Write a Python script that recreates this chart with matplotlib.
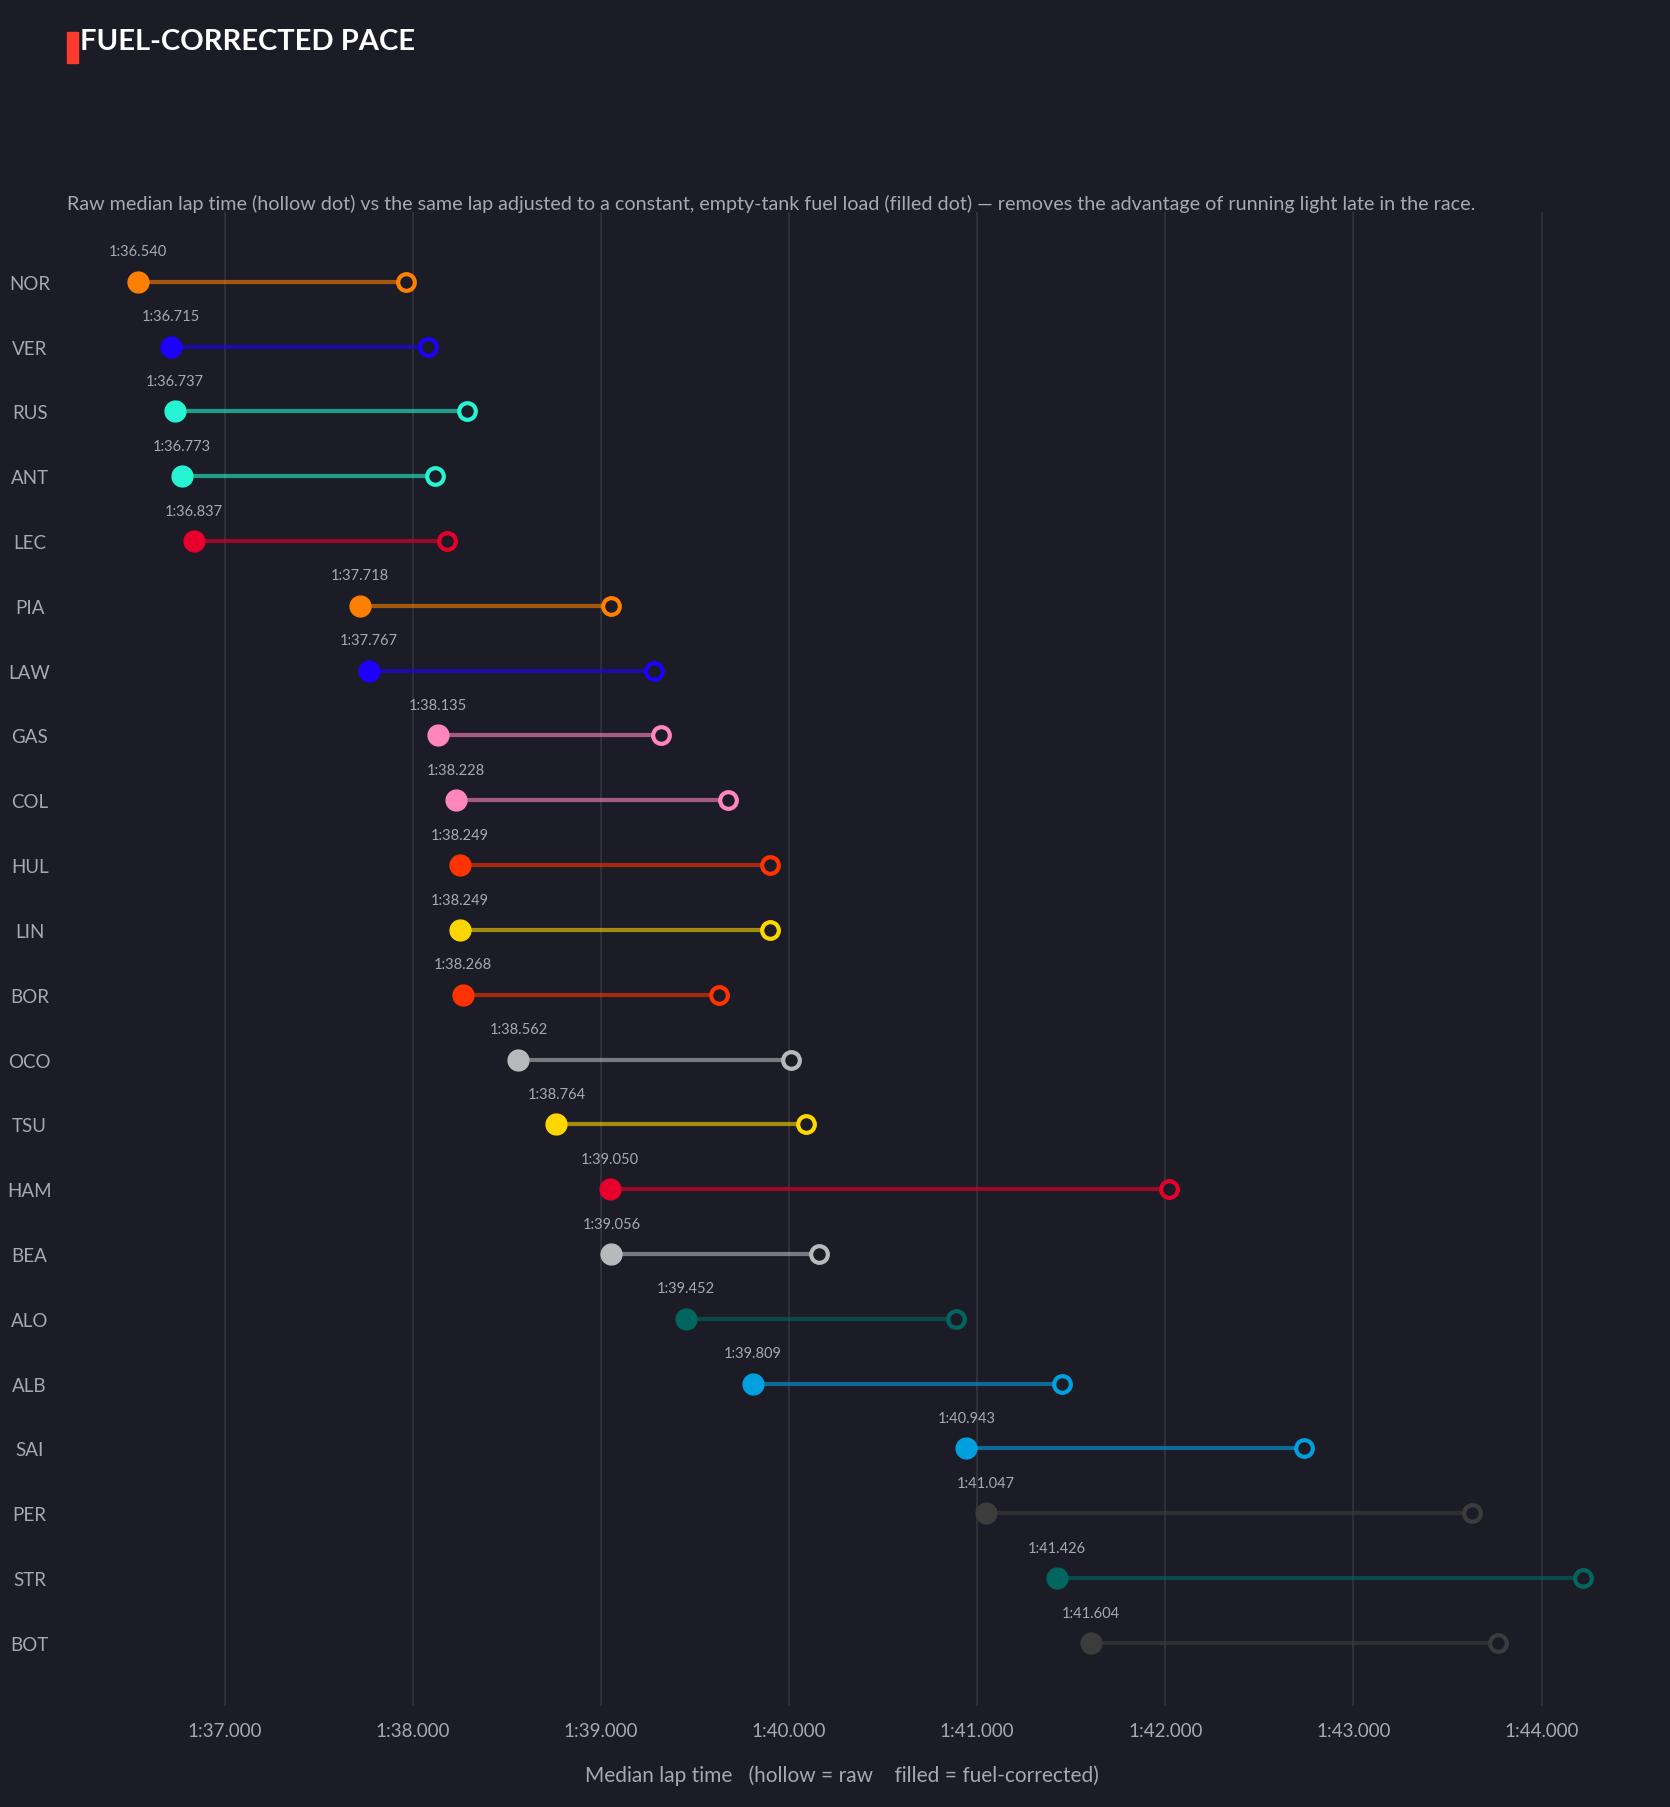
import matplotlib
matplotlib.use("Agg")
import matplotlib.pyplot as plt
from matplotlib.ticker import FixedLocator, FuncFormatter

drivers = ["NOR","VER","RUS","ANT","LEC","PIA","LAW","GAS","COL","HUL","LIN","BOR","OCO","TSU","HAM","BEA","ALO","ALB","SAI","PER","STR","BOT"]
corrected = [96.540,96.715,96.737,96.773,96.837,97.718,97.767,98.135,98.228,98.249,98.249,98.268,98.562,98.764,99.050,99.056,99.452,99.809,100.943,101.047,101.426,101.604]
raw = [97.963,98.08,98.29,98.117,98.18,99.055,99.28,99.32,99.675,99.90,99.90,99.63,100.01,100.09,102.02,100.16,100.89,101.45,102.74,103.63,104.22,103.77]
colors = ["#FF8000","#1E00FF","#27F4D2","#27F4D2","#E8002D","#FF8000","#1E00FF","#FF87BC","#FF87BC","#FF3300","#FFD700","#FF3300","#B6BABD","#FFD700","#E8002D","#B6BABD","#00665F","#00A0DE","#00A0DE","#3C3C3C","#00665F","#3C3C3C"]
xticks = [97,98,99,100,101,102,103,104]

BG = "#1c1c26"
TXT = "#a8a8b0"
plt.rcParams['font.family'] = ['Lato', 'DejaVu Sans']

def fmt(v):
    m = int(v // 60)
    s = v - 60*m
    return f"{m}:{s:06.3f}"

fig = plt.figure(figsize=(16.7, 18.08), dpi=100, facecolor=BG)
ax = fig.add_axes([0.041, 0.056, 0.926, 0.826], facecolor=BG)

for i, (d, c, r, col) in enumerate(zip(drivers, corrected, raw, colors)):
    ax.plot([c, r], [i, i], color=col, alpha=0.6, lw=3, zorder=2, solid_capstyle='butt')
    ax.plot(r, i, 'o', ms=12, mfc=BG, mec=col, mew=3, zorder=3)
    ax.plot(c, i, 'o', ms=15, color=col, zorder=4)
    ax.text(c, i - 0.36, fmt(c), ha='center', va='bottom', color=TXT, fontsize=10.5)

ax.set_xlim(96.17, 104.39)
ax.set_ylim(21.97, -1.07)
ax.xaxis.set_major_locator(FixedLocator(xticks))
ax.xaxis.set_major_formatter(FuncFormatter(lambda v, p: fmt(v)))
ax.set_yticks(range(len(drivers)))
ax.set_yticklabels(drivers)
for t in ax.get_yticklabels():
    t.set_ha('center')
ax.grid(axis='x', color='#33333f', lw=1.2, zorder=0)
ax.set_axisbelow(True)
for s in ax.spines.values():
    s.set_visible(False)
ax.tick_params(axis='both', length=0, colors=TXT, labelsize=13.5)
ax.tick_params(axis='y', pad=28)
ax.tick_params(axis='x', pad=12)
ax.set_xlabel("Median lap time   (hollow = raw    filled = fuel-corrected)", color=TXT, fontsize=15, labelpad=18)

fig.patches.append(plt.Rectangle((0.040, 0.9645), 0.0065, 0.0175, transform=fig.transFigure, color="#FF3B30"))
fig.text(0.048, 0.977, "FUEL-CORRECTED PACE", color="white", fontsize=21, fontweight='bold', va='center')
fig.text(0.040, 0.887, "Raw median lap time (hollow dot) vs the same lap adjusted to a constant, empty-tank fuel load (filled dot) — removes the advantage of running light late in the race.",
         color=TXT, fontsize=14.2, va='center')

fig.savefig("out.png", facecolor=BG)
